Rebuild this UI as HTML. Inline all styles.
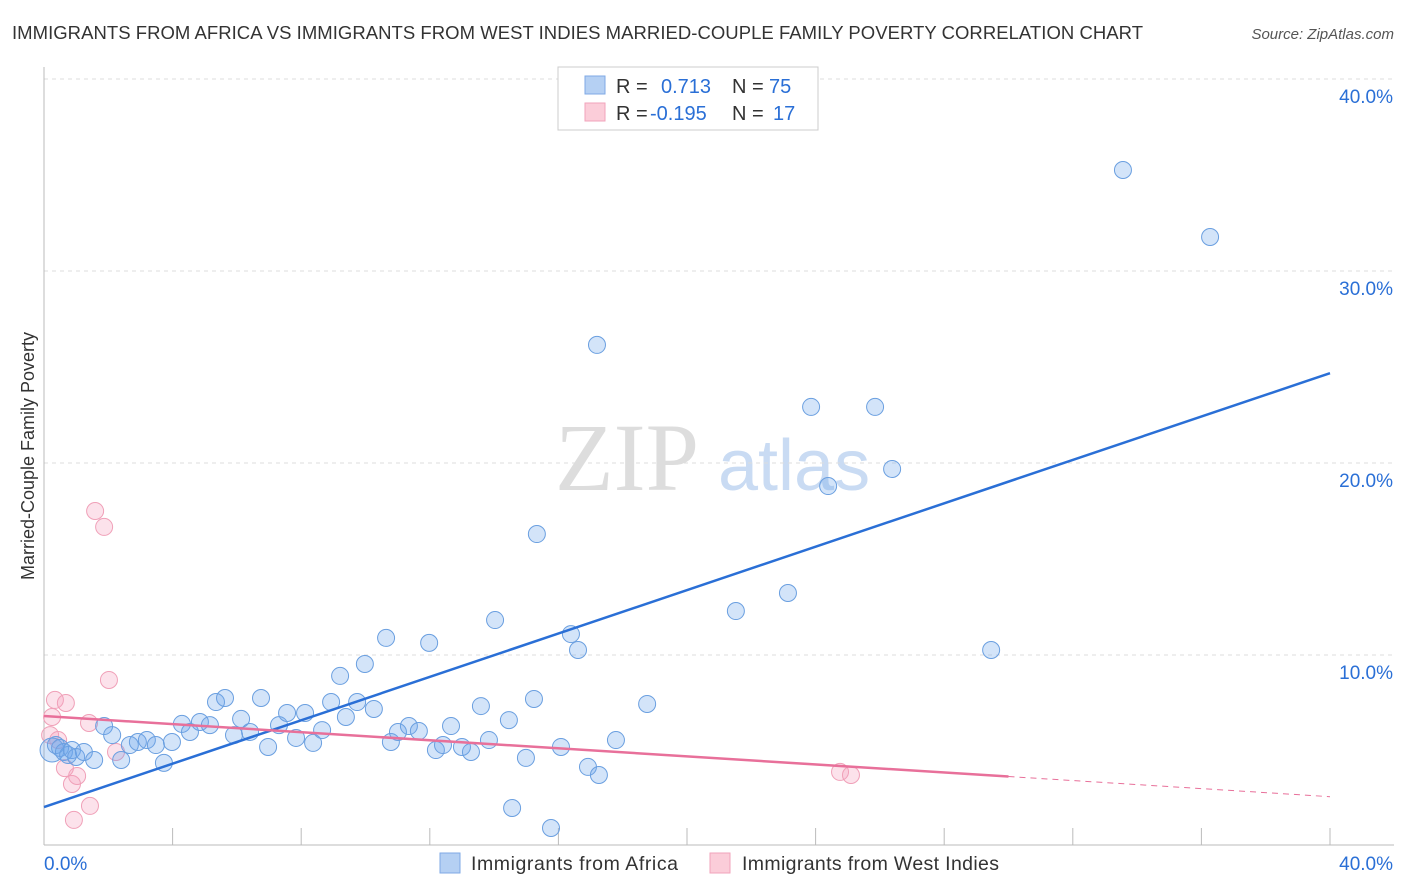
<!DOCTYPE html>
<html><head><meta charset="utf-8"><style>
body{margin:0;background:#fff;font-family:"Liberation Sans",sans-serif}
svg{display:block}
</style></head><body>
<svg id="c" width="1406" height="892">
<text x="12" y="39" font-size="18.5" fill="#333" textLength="1131">IMMIGRANTS FROM AFRICA VS IMMIGRANTS FROM WEST INDIES MARRIED-COUPLE FAMILY POVERTY CORRELATION CHART</text>
<text x="1394" y="39" font-size="15" fill="#555" font-style="italic" text-anchor="end">Source: ZipAtlas.com</text>
<text x="34" y="456" font-size="18" fill="#333" text-anchor="middle" transform="rotate(-90 34 456)">Married-Couple Family Poverty</text>
<g><text x="555" y="490" font-size="96" fill="#ddd" font-family="Liberation Serif,serif">ZIP</text><text x="718" y="490" font-size="72" fill="#c9dbf3">atlas</text></g>
<g id="grid"></g><g id="marks"></g>
<g>
<rect x="558" y="67" width="260" height="63" fill="#fff" stroke="#ccc"/>
<rect x="585" y="76" width="20" height="18" fill="#b5d0f3" stroke="#7fa9e6"/>
<rect x="585" y="103" width="20" height="18" fill="#fbcdd9" stroke="#f1a3bb"/>
<text x="616" y="93" font-size="20" fill="#333">R = <tspan fill="#2a6fd6" x="661">0.713</tspan><tspan x="732" fill="#333">N = </tspan><tspan fill="#2a6fd6" x="769">75</tspan></text>
<text x="616" y="120" font-size="20" fill="#333">R = <tspan fill="#2a6fd6" x="650">-0.195</tspan><tspan x="732" fill="#333">N = </tspan><tspan fill="#2a6fd6" x="773">17</tspan></text>
</g>
<g>
<rect x="440" y="853" width="20" height="20" fill="#b5d0f3" stroke="#7fa9e6"/>
<text x="471" y="870" font-size="19.5" fill="#333" textLength="207">Immigrants from Africa</text>
<rect x="710" y="853" width="20" height="20" fill="#fbcdd9" stroke="#f1a3bb"/>
<text x="742" y="870" font-size="19.5" fill="#333" textLength="257">Immigrants from West Indies</text>
</g>
</svg>
<script>
const xTicks=[0,40];
const yTicks=[10,20,30,40];
const blueX=[0.25,0.37,0.5,0.62,0.75,0.87,1.0,1.24,1.56,1.87,2.12,2.4,2.67,2.92,3.2,3.48,3.73,3.98,4.29,4.54,4.85,5.16,5.35,5.63,5.91,6.13,6.41,6.75,6.97,7.31,7.56,7.84,8.12,8.37,8.65,8.93,9.21,9.39,9.74,9.98,10.26,10.64,10.79,11.01,11.35,11.66,11.98,12.19,12.41,12.66,13.0,13.28,13.59,13.84,14.03,14.46,14.99,15.24,15.33,14.56,15.77,16.08,16.39,16.61,16.92,17.2,17.26,17.79,18.76,21.52,23.14,23.86,24.39,25.85,26.38,29.46,33.56,36.27];
const blueY=[5.05,5.31,5.16,4.95,4.79,5.05,4.69,4.95,4.53,6.3,5.83,4.53,5.31,5.47,5.57,5.31,4.38,5.47,6.41,5.99,6.51,6.35,7.55,7.76,5.83,6.67,5.99,7.76,5.21,6.35,6.98,5.68,6.98,5.42,6.09,7.55,8.91,6.77,7.55,9.53,7.19,10.89,5.47,5.99,6.3,6.04,10.63,5.05,5.31,6.3,5.21,4.95,7.34,5.57,11.82,6.61,4.64,7.71,16.3,2.03,0.99,5.21,11.09,10.26,4.17,26.15,3.75,5.57,7.45,12.29,13.23,22.92,18.8,22.92,19.69,10.26,35.26,31.77];
const pinkX=[0.25,0.34,0.68,0.19,0.44,1.59,1.87,2.02,1.4,2.24,0.87,1.03,0.65,1.43,0.93,24.76,25.1];
const pinkY=[6.77,7.66,7.5,5.83,5.57,17.5,16.67,8.7,6.46,4.95,3.28,3.7,4.11,2.14,1.41,3.91,3.75];
const blueFit=[2.08,0.565];
const pinkFit=[6.82,-0.105];
const X=v=>44+v/40*1286, Y=v=>847-v*19.2;
const NS='http://www.w3.org/2000/svg';
function mk(p,t,a){const e=document.createElementNS(NS,t);for(const k in a)e.setAttribute(k,a[k]);p.appendChild(e);return e;}
const g=document.getElementById('grid'), m=document.getElementById('marks');
yTicks.forEach(t=>{
 const l=mk(g,'line',{x1:44,x2:1394,y1:Y(t),y2:Y(t),stroke:'#ddd','stroke-dasharray':'4,4'});
 
 
 const tx=mk(g,'text',{x:1393,y:Y(t)+24,'font-size':19,fill:'#2a6fd6','text-anchor':'end'});tx.textContent=t.toFixed(1)+'%';
 
 
});
mk(g,'line',{x1:44,x2:44,y1:67,y2:845,stroke:'#bbb'});
mk(g,'line',{x1:44,x2:1394,y1:845,y2:845,stroke:'#bbb'});
for(let i=1;i<=10;i++){const x=X(i*4);mk(g,'line',{x1:x,x2:x,y1:828,y2:845,stroke:'#bbb'});}
xTicks.forEach((t,i)=>{
 const tx=mk(g,'text',{x:i?1393:44,y:870,'font-size':19,fill:'#2a6fd6','text-anchor':i?'end':'start'});tx.textContent=t.toFixed(1)+'%';
 
 
});
pinkX.forEach((v,i)=>{
 const c=mk(m,'circle',{cx:X(v),cy:Y(pinkY[i]),r:8.5,fill:'rgba(245,160,190,0.3)',stroke:'#f0a0b8','stroke-width':1});
 
 
});
blueX.forEach((v,i)=>{
 const c=mk(m,'circle',{cx:X(v),cy:Y(blueY[i]),r:i==0?12:8.5,fill:'rgba(110,165,235,0.3)',stroke:'#6a9fe0','stroke-width':1});
 
 
});
const bl=mk(m,'line',{x1:X(0),y1:Y(blueFit[0]),x2:X(40),y2:Y(blueFit[0]+blueFit[1]*40),stroke:'#2a6fd6','stroke-width':2.5});


const pl=mk(m,'line',{x1:X(0),y1:Y(pinkFit[0]),x2:X(30),y2:Y(pinkFit[0]+pinkFit[1]*30),stroke:'#e8709a','stroke-width':2.5});


const pd=mk(m,'line',{x1:X(30),y1:Y(pinkFit[0]+pinkFit[1]*30),x2:X(40),y2:Y(pinkFit[0]+pinkFit[1]*40),stroke:'#e8709a','stroke-width':1,'stroke-dasharray':'6,5'});


</script>
</body></html>
